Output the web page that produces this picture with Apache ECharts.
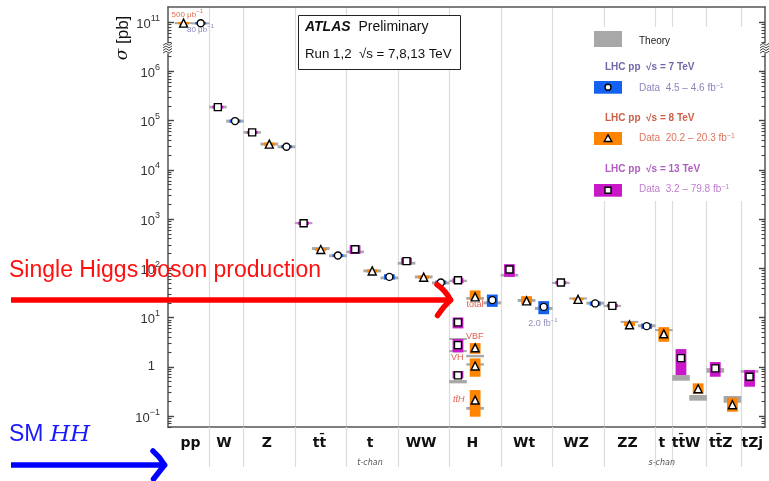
<!DOCTYPE html>
<html><head><meta charset="utf-8">
<script src="https://cdn.jsdelivr.net/npm/echarts@6/dist/echarts.min.js"></script>
<style>html,body{margin:0;padding:0;background:#fff}#c{width:769px;height:481px}</style>
</head><body><div id="c"></div>
<script>
// ---- categories / axis ----
const catLabels = ['pp','W','Z','tt\u0304','t','WW','H','Wt','WZ','ZZ','t','tt\u0304W','tt\u0304Z','tZj'];
const catSub    = ['','','','','t-chan','','','','','','s-chan','','',''];
const catPos    = [1.4,3.36,5.85,8.92,11.87,14.85,17.84,20.85,23.88,26.88,28.88,30.3,32.32,34.16];
const sepPos    = [2.5,4.5,7.5,10.5,13.5,16.5,19.5,22.5,25.5,28.5,29.5,31.5,33.5];
const yMajor    = [-1,0,1,2,3,4,5,6,7];   // 7 == 10^11 (broken axis)

// ---- 7 TeV (circles) ----
const x7    = [2,4,7,10,13,16,19,22,25,28];
const val7  = [9.535e10,98200,29650,182,67.1,51.7,22.6,16.5,19.4,6.7];
const lo7   = [9.2e10,91000,27600,170,59.2,47.2,16.5,11.7,17.3,5.9];
const hi7   = [9.9e10,106000,31800,195,76.1,56.6,29.4,21.6,21.3,7.6];
const thLo7 = [9.07e10,91500,27600,168,59.8,47.3,18.6,14.3,18.3,6.35];
const thHi7 = [9.95e10,105000,31500,193,68.6,54.3,21.3,16.4,21.0,7.3];

// ---- 8 TeV (triangles) ----
const x8    = [1,6,9,12,15,18,18,18,18,21,24,27,29,31,33];
const val8  = [9.6e10,33500,241,88.7,66.2,26.4,2.43,1.04,0.211,21.9,23.4,7.13,4.68,0.359,0.170];
const lo8   = [9.2e10,31200,224,82.5,61.5,22.9,1.84,0.628,0.0968,18.8,22.4,6.7,3.22,0.284,0.122];
const hi8   = [1.0e11,36000,259,95.5,71.3,35.6,3.03,1.48,0.337,27.2,25.2,8.2,6.4,0.461,0.235];
const thLo8 = [9.2e10,31300,236,83,62.5,23.0,1.56,1.06,0.134,20.8,23.3,7.85,5.3,0.205,0.186];
const thHi8 = [1.0e11,35900,271,95,71.8,26.2,1.75,1.18,0.153,23.9,25.7,8.55,5.85,0.267,0.255];

// ---- 13 TeV (squares) ----
const x13    = [3,5,8,11,14,17,17,17,17,20,23,26,30,32,34];
const val13  = [189000,57800,824,245,140,57.5,7.98,2.76,0.67,94.9,51.6,17.3,1.50,0.93,0.628];
const lo13   = [176000,54000,765,196,119.6,50.0,6.03,1.96,0.583,67.1,47.1,16.1,0.679,0.628,0.394];
const hi13   = [203000,62000,888,295,163,64.1,10.07,3.66,0.82,121.6,55.6,19.0,2.29,1.25,0.859];
const thLo13 = [178000,54500,790,203,119,52.5,null,3.55,0.461,68.2,48.2,16.5,0.521,0.757,0.757];
const thHi13 = [201000,61300,876,230,136,58.9,null,3.78,0.538,77.3,53.3,18.1,0.679,0.942,0.859];
// extra theory band (VH, 13 TeV, no data point)
const thXx  = [17];
const thXLo = [2.02];
const thXHi = [2.15];

// ---- colours ----
const C7 = '#1460f0', C8 = '#ff8400', C13 = '#c818c8', CTH = '#a8a8a8';

const L = v => v >= 1e8 ? Math.log10(v) - 4 : Math.log10(v);   // axis break: 10^11 -> 7
const X_MIN = 0.093, X_MAX = 34.9, Y_MIN = -1.223, Y_MAX = 7.31;

const yMinor = [];
for (let n = -2; n <= 5; n++) for (let k = 2; k <= 9; k++) { const t = n + Math.log10(k); if (t > Y_MIN && t < 6.4) yMinor.push(t); }
yMinor.push(6 + Math.log10(2));
for (let k = 4; k <= 9; k++) yMinor.push(6 + Math.log10(k));

function bands(xs, los, his) {
  const out = [];
  xs.forEach((x, i) => { if (los[i] != null) out.push([x, L(los[i]), L(his[i])]); });
  return out;
}
function bandRender(width, color, minH) {
  return function (params, api) {
    const x = api.value(0), lo = api.value(1), hi = api.value(2);
    const a = api.coord([x - width / 2, hi]);
    const b = api.coord([x + width / 2, lo]);
    let y = a[1], h = b[1] - a[1];
    if (h < minH) { y -= (minH - h) / 2; h = minH; }
    return { type: 'rect', shape: { x: a[0], y: y, width: b[0] - a[0], height: h }, style: { fill: color } };
  };
}
const pts = (xs, vs) => xs.map((x, i) => [x, L(vs[i])]);

const theoryData = [].concat(bands(x7, thLo7, thHi7), bands(x8, thLo8, thHi8), bands(x13, thLo13, thHi13), bands(thXx, thXLo, thXHi));

const FONT = 'Liberation Sans';
const yLabelFmt = v => {
  const n = Math.round(v);
  if (n === 0) return '{o|1}';
  const e = n === 7 ? 11 : n;
  return '{b|10}{s|' + (e < 0 ? '\u2212' + (-e) : e) + '}';
};
const yRich = {
  b: { fontSize: 13, color: '#333', fontFamily: FONT, verticalAlign: 'bottom', lineHeight: 17 },
  s: { fontSize: 9, color: '#333', fontFamily: FONT, verticalAlign: 'top', lineHeight: 17 },
  o: { fontSize: 13, color: '#333', fontFamily: FONT, padding: [0, 5, 0, 0] }
};
const xLabelFmt = v => {
  let i = 0, best = 1e9;
  catPos.forEach((p, j) => { if (Math.abs(p - v) < best) { best = Math.abs(p - v); i = j; } });
  return catSub[i] ? catLabels[i] + '\n{sub|' + catSub[i] + '}' : catLabels[i];
};

const chart = echarts.init(document.getElementById('c'), null, { renderer: 'canvas' });
const axisLineStyle = { color: '#555', width: 1.5 };
const yCommon = { type: 'value', min: Y_MIN, max: Y_MAX, splitLine: { show: false } };
const xCommon = { type: 'value', min: X_MIN, max: X_MAX, splitLine: { show: false } };
const majTick = { color: '#444', width: 1.4 };
const minTick = { color: '#444', width: 1.1 };

chart.setOption({
  animation: false,
  backgroundColor: '#fff',
  grid: { left: 168, right: 4, top: 7, bottom: 54, containLabel: false },
  xAxis: [
    Object.assign({}, xCommon, {
      position: 'bottom',
      axisLine: { show: true, onZero: false, lineStyle: axisLineStyle },
      axisTick: { show: false },
      axisLabel: {
        customValues: catPos, formatter: xLabelFmt, margin: 8,
        fontSize: 14, fontWeight: 'bold', fontFamily: 'DejaVu Sans', color: '#111', lineHeight: 16,
        rich: { sub: { fontSize: 8, fontStyle: 'italic', fontWeight: 'normal', fontFamily: 'DejaVu Sans', color: '#555', lineHeight: 24 } }
      }
    }),
    Object.assign({}, xCommon, {
      position: 'bottom',
      axisLine: { show: false, onZero: false },
      axisLabel: { show: false },
      axisTick: { show: true, customValues: sepPos, length: 40, lineStyle: { color: '#dcdcdc', width: 1.2 } },
      splitLine: { show: true, customValues: sepPos, lineStyle: { color: '#dcdcdc', width: 1.2 } }
    }),
    Object.assign({}, xCommon, {
      position: 'top',
      axisLine: { show: true, onZero: false, lineStyle: axisLineStyle },
      axisTick: { show: false }, axisLabel: { show: false }
    })
  ],
  yAxis: [
    Object.assign({}, yCommon, {
      position: 'left',
      axisLine: { show: true, onZero: false, lineStyle: axisLineStyle },
      axisTick: { show: true, inside: true, customValues: yMajor, length: 6, lineStyle: majTick },
      axisLabel: { customValues: yMajor, formatter: yLabelFmt, rich: yRich, margin: 8, fontFamily: FONT, fontSize: 13, color: '#333' }
    }),
    Object.assign({}, yCommon, {
      position: 'left',
      axisLine: { show: false, onZero: false }, axisLabel: { show: false },
      axisTick: { show: true, inside: true, customValues: yMinor, length: 3.5, lineStyle: minTick }
    }),
    Object.assign({}, yCommon, {
      position: 'right',
      axisLine: { show: true, onZero: false, lineStyle: axisLineStyle }, axisLabel: { show: false },
      axisTick: { show: true, inside: true, customValues: yMajor, length: 6, lineStyle: majTick }
    }),
    Object.assign({}, yCommon, {
      position: 'right',
      axisLine: { show: false, onZero: false }, axisLabel: { show: false },
      axisTick: { show: true, inside: true, customValues: yMinor, length: 3.5, lineStyle: minTick }
    })
  ],
  series: [
    { type: 'custom', name: 'Theory', data: theoryData, renderItem: bandRender(1.03, CTH, 2), z: 2, silent: true },
    { type: 'custom', name: 'box7', data: bands(x7, lo7, hi7), renderItem: bandRender(0.63, C7, 2.5), z: 3, silent: true },
    { type: 'custom', name: 'box8', data: bands(x8, lo8, hi8), renderItem: bandRender(0.63, C8, 2.5), z: 3, silent: true },
    { type: 'custom', name: 'box13', data: bands(x13, lo13, hi13), renderItem: bandRender(0.63, C13, 2.5), z: 3, silent: true },
    { type: 'scatter', name: '7 TeV', data: pts(x7, val7), symbol: 'circle', symbolSize: 7, z: 4,
      itemStyle: { color: '#fff', borderColor: '#000', borderWidth: 1.4, opacity: 1 } },
    { type: 'scatter', name: '8 TeV', data: pts(x8, val8), symbol: 'triangle', symbolSize: 8, z: 4,
      itemStyle: { color: '#fff', borderColor: '#000', borderWidth: 1.4, opacity: 1 } },
    { type: 'scatter', name: '13 TeV', data: pts(x13, val13), symbol: 'rect', symbolSize: 7, z: 4,
      itemStyle: { color: '#fff', borderColor: '#000', borderWidth: 1.4, opacity: 1 } }
  ]
});

// ---- decorations ----
const yBreak = chart.convertToPixel({ yAxisIndex: 0 }, 6.47);
const xl = chart.convertToPixel({ xAxisIndex: 0 }, X_MIN);
const xr = chart.convertToPixel({ xAxisIndex: 0 }, X_MAX);
function breakMark(x0) {
  const els = [{ type: 'rect', shape: { x: x0 - 2, y: yBreak - 5, width: 4, height: 10 }, style: { fill: '#fff' }, z: 50 }];
  for (let i = 0; i < 4; i++) {
    const y = yBreak - 4 + i * 2.6;
    els.push({ type: 'polyline', shape: { points: [[x0 - 5, y + 1], [x0 - 2, y - 1], [x0 + 1, y + 1], [x0 + 4, y - 1]] },
      style: { stroke: '#444', lineWidth: 1, fill: null }, z: 51 });
  }
  return els;
}
const sup = { fontSize: 7, verticalAlign: 'top', lineHeight: 12 };
const mk = (t, x, y, o) => Object.assign({ type: 'text', x: x, y: y, z: 60,
  style: Object.assign({ text: t, fontFamily: FONT, fontSize: 10, fill: '#222', verticalAlign: 'middle' }, o || {}) });
const curve = (x1, y1, cx, cy, x2, y2, color) => ({ type: 'bezierCurve', z: 100,
  shape: { x1: x1, y1: y1, cpx1: cx, cpy1: cy, x2: x2, y2: y2 },
  style: { stroke: color, lineWidth: 5.5, fill: null, lineCap: 'round' } });

const g = [].concat(breakMark(xl), breakMark(xr), [
  // ATLAS box
  { type: 'rect', shape: { x: 298.5, y: 15.5, width: 162, height: 54 }, style: { fill: '#fff', stroke: '#222', lineWidth: 1 }, z: 20 },
  mk('{b|ATLAS}  Preliminary', 305, 27.5, { fontSize: 14, fill: '#111', rich: { b: { fontSize: 14, fontWeight: 'bold', fontStyle: 'italic', fontFamily: FONT, fill: '#111' } } }),
  mk('Run 1,2  \u221As = 7,8,13 TeV', 305, 54, { fontSize: 13.3, fill: '#111' }),
  // legend
  { type: 'rect', shape: { x: 589, y: 27, width: 162, height: 174 }, style: { fill: '#fff' }, z: 20 },
  { type: 'rect', shape: { x: 594, y: 31, width: 28, height: 16 }, style: { fill: CTH }, z: 21 },
  mk('Theory', 639, 41),
  mk('LHC pp  \u221As = 7 TeV', 605, 67.7, { fontWeight: 'bold', fill: '#7068a8' }),
  { type: 'rect', shape: { x: 594, y: 81, width: 28, height: 12.7 }, style: { fill: C7 }, z: 21 },
  { type: 'circle', shape: { cx: 608, cy: 87.3, r: 3 }, style: { fill: '#fff', stroke: '#000', lineWidth: 1.4 }, z: 22 },
  mk('Data  4.5 \u2013 4.6 fb{s|\u22121}', 639, 88.3, { fill: '#8a86bd', rich: { s: Object.assign({ fill: '#8a86bd' }, sup) } }),
  mk('LHC pp  \u221As = 8 TeV', 605, 118.7, { fontWeight: 'bold', fill: '#cc5f47' }),
  { type: 'rect', shape: { x: 594, y: 132, width: 28, height: 13 }, style: { fill: C8 }, z: 21 },
  { type: 'polygon', shape: { points: [[608, 134.8], [611.8, 141.5], [604.2, 141.5]] }, style: { fill: '#fff', stroke: '#000', lineWidth: 1.4 }, z: 22 },
  mk('Data  20.2 \u2013 20.3 fb{s|\u22121}', 639, 138.7, { fill: '#e0745f', rich: { s: Object.assign({ fill: '#e0745f' }, sup) } }),
  mk('LHC pp  \u221As = 13 TeV', 605, 169.7, { fontWeight: 'bold', fill: '#b05cc0' }),
  { type: 'rect', shape: { x: 594, y: 184, width: 28, height: 12.7 }, style: { fill: C13 }, z: 21 },
  { type: 'rect', shape: { x: 605, y: 187.3, width: 6, height: 6 }, style: { fill: '#fff', stroke: '#000', lineWidth: 1.4 }, z: 22 },
  mk('Data  3.2 \u2013 79.8 fb{s|\u22121}', 639, 189.7, { fill: '#c07ccf', rich: { s: Object.assign({ fill: '#c07ccf' }, sup) } }),
  // small in-plot labels
  mk('500 \u03bcb{s|\u22121}', 171.5, 14.7, { fontSize: 8, fill: '#e07050', rich: { s: Object.assign({ fill: '#e07050' }, sup, { fontSize: 6 }) } }),
  mk('80 \u03bcb{s|\u22121}', 187, 29.3, { fontSize: 8, fill: '#8888c0', rich: { s: Object.assign({ fill: '#8888c0' }, sup, { fontSize: 6 }) } }),
  mk('total', 475, 304.5, { fontSize: 9, fill: '#e06050', align: 'center' }),
  mk('VBF', 474.7, 337, { fontSize: 9, fill: '#e06050', align: 'center' }),
  mk('VH', 457.3, 357.7, { fontSize: 9, fill: '#e06050', align: 'center' }),
  mk('tt\u0304H', 458.7, 399.3, { fontSize: 9, fill: '#e06050', align: 'center', fontStyle: 'italic' }),
  mk('2.0 fb{s|\u22121}', 543, 323.3, { fontSize: 9, fill: '#9090b8', align: 'center', rich: { s: Object.assign({ fill: '#9090b8' }, sup, { fontSize: 6 }) } }),
  // y axis title
  { type: 'text', x: 123, y: 38, rotation: Math.PI / 2, z: 60,
    style: { text: '{i|\u03c3} [pb]', fontFamily: FONT, fontSize: 17, fill: '#111', align: 'center', verticalAlign: 'middle',
      rich: { i: { fontStyle: 'italic', fontFamily: 'DejaVu Serif', fontSize: 17, fill: '#111' } } } },
  // overlay annotations
  { type: 'text', x: 9, y: 270.7, z: 100,
    style: { text: 'Single Higgs boson production', fontFamily: FONT, fontSize: 23, fill: '#ff1010', verticalAlign: 'middle' } },
  { type: 'line', shape: { x1: 11, y1: 300, x2: 447, y2: 300 }, style: { stroke: '#ff0000', lineWidth: 5.5 }, z: 100 },
  curve(437, 284.5, 446, 291, 450.5, 300, '#ff0000'),
  curve(450.5, 300, 443, 307, 437.5, 315.5, '#ff0000'),
  { type: 'text', x: 9, y: 435, z: 100,
    style: { text: 'SM {h|HH}', fontFamily: FONT, fontSize: 23, fill: '#1a1aff', verticalAlign: 'middle',
      rich: { h: { fontFamily: 'DejaVu Serif', fontStyle: 'italic', fontSize: 23, fill: '#1a1aff' } } } },
  { type: 'line', shape: { x1: 11, y1: 465, x2: 162, y2: 465 }, style: { stroke: '#0000ff', lineWidth: 5.5 }, z: 100 },
  curve(153, 451, 160, 457, 164.5, 465, '#0000ff'),
  curve(164.5, 465, 159, 472, 153.5, 479, '#0000ff')
]);
chart.setOption({ graphic: { elements: g } });
</script>
</body></html>
